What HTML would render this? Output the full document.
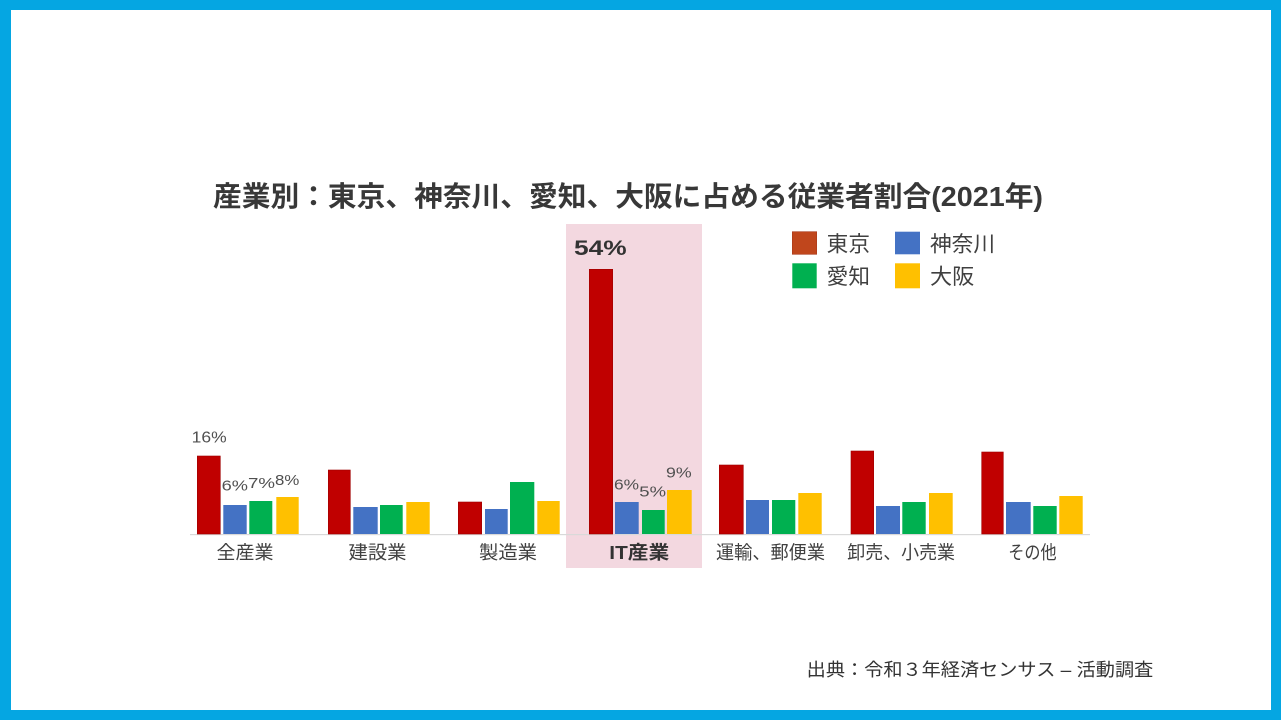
<!DOCTYPE html>
<html>
<head>
<meta charset="utf-8">
<style>
html,body{margin:0;padding:0;background:#fff;}
body{width:1281px;height:720px;overflow:hidden;}
svg{display:block;}
</style>
</head>
<body>
<svg width="1281" height="720" viewBox="0 0 1281 720" xmlns="http://www.w3.org/2000/svg">
  <rect x="0" y="0" width="1281" height="720" fill="#05A6E2"/>
  <rect x="11" y="10" width="1260" height="700" fill="#FFFFFF"/>

  <!-- Title -->
  <text x="213" y="206" font-family="'Liberation Sans','Noto Sans CJK JP',sans-serif" font-weight="bold" font-size="28" fill="#383838" textLength="830" lengthAdjust="spacingAndGlyphs">産業別：東京、神奈川、愛知、大阪に占める従業者割合(2021年)</text>

  <!-- Highlight -->
  <rect x="566" y="224" width="136" height="344" fill="#F3D8E0"/>

  <!-- Axis -->
  <rect x="190" y="534" width="900" height="1.2" fill="#D9D9D9"/>

  <!-- Bars -->
  <g>
    <!-- 全産業 -->
    <rect x="197.3" y="456" width="23" height="78" fill="#C00000" stroke="#A00000" stroke-width="0.6"/>
    <rect x="223.3" y="505" width="23.4" height="29" fill="#4472C4"/>
    <rect x="249.3" y="501" width="23" height="33" fill="#00B050"/>
    <rect x="276.3" y="497" width="22.4" height="37" fill="#FFC000"/>
    <!-- 建設業 -->
    <rect x="328.3" y="470" width="22" height="64" fill="#C00000" stroke="#A00000" stroke-width="0.6"/>
    <rect x="353.3" y="507" width="24.4" height="27" fill="#4472C4"/>
    <rect x="380" y="505" width="22.7" height="29" fill="#00B050"/>
    <rect x="406.3" y="502" width="23.4" height="32" fill="#FFC000"/>
    <!-- 製造業 -->
    <rect x="458.3" y="502" width="23.4" height="32" fill="#C00000" stroke="#A00000" stroke-width="0.6"/>
    <rect x="485" y="509" width="22.7" height="25" fill="#4472C4"/>
    <rect x="510" y="482" width="24.3" height="52" fill="#00B050"/>
    <rect x="537.3" y="501" width="22.4" height="33" fill="#FFC000"/>
    <!-- IT産業 -->
    <rect x="589.3" y="269.3" width="23.4" height="264.7" fill="#C00000" stroke="#A00000" stroke-width="0.6"/>
    <rect x="615" y="502" width="23.7" height="32" fill="#4472C4"/>
    <rect x="642" y="510" width="22.7" height="24" fill="#00B050"/>
    <rect x="667" y="490" width="24.7" height="44" fill="#FFC000"/>
    <!-- 運輸、郵便業 -->
    <rect x="719.3" y="465" width="24" height="69" fill="#C00000" stroke="#A00000" stroke-width="0.6"/>
    <rect x="746" y="500" width="23" height="34" fill="#4472C4"/>
    <rect x="772" y="500" width="23.3" height="34" fill="#00B050"/>
    <rect x="798.3" y="493" width="23.4" height="41" fill="#FFC000"/>
    <!-- 卸売、小売業 -->
    <rect x="851" y="451" width="22.7" height="83" fill="#C00000" stroke="#A00000" stroke-width="0.6"/>
    <rect x="876" y="506" width="24" height="28" fill="#4472C4"/>
    <rect x="902.3" y="502" width="23.4" height="32" fill="#00B050"/>
    <rect x="929" y="493" width="23.7" height="41" fill="#FFC000"/>
    <!-- その他 -->
    <rect x="981.7" y="452" width="21.6" height="82" fill="#C00000" stroke="#A00000" stroke-width="0.6"/>
    <rect x="1006" y="502" width="24.7" height="32" fill="#4472C4"/>
    <rect x="1033.3" y="506" width="23.4" height="28" fill="#00B050"/>
    <rect x="1059.3" y="496" width="23.4" height="38" fill="#FFC000"/>
  </g>

  <!-- Value labels -->
  <g font-family="'Liberation Sans',sans-serif" fill="#505050">
    <text x="191.7" y="442.7" font-size="15.5" textLength="35" lengthAdjust="spacingAndGlyphs">16%</text>
    <text x="221.7" y="490.7" font-size="15" textLength="26.3" lengthAdjust="spacingAndGlyphs">6%</text>
    <text x="248" y="488" font-size="15" textLength="27" lengthAdjust="spacingAndGlyphs">7%</text>
    <text x="275" y="485" font-size="15" textLength="24.3" lengthAdjust="spacingAndGlyphs">8%</text>
    <text x="614" y="489.3" font-size="15" textLength="25" lengthAdjust="spacingAndGlyphs">6%</text>
    <text x="639.3" y="496.7" font-size="15" textLength="26.7" lengthAdjust="spacingAndGlyphs">5%</text>
    <text x="666" y="477.3" font-size="15" textLength="25.7" lengthAdjust="spacingAndGlyphs">9%</text>
    <text x="574" y="255" font-size="21.5" font-weight="bold" fill="#333333" textLength="52.7" lengthAdjust="spacingAndGlyphs">54%</text>
  </g>

  <!-- Category labels -->
  <g font-family="'Liberation Sans','Noto Sans CJK JP',sans-serif" font-size="18.5" fill="#404040">
    <text x="216.5" y="559" textLength="57" lengthAdjust="spacingAndGlyphs">全産業</text>
    <text x="348.5" y="559" textLength="58" lengthAdjust="spacingAndGlyphs">建設業</text>
    <text x="479" y="559" textLength="58" lengthAdjust="spacingAndGlyphs">製造業</text>
    <text x="609.3" y="559" font-weight="bold" fill="#333333" textLength="60" lengthAdjust="spacingAndGlyphs">IT産業</text>
    <text x="716" y="559" textLength="109" lengthAdjust="spacingAndGlyphs">運輸、郵便業</text>
    <text x="847.3" y="559" textLength="107.7" lengthAdjust="spacingAndGlyphs">卸売、小売業</text>
    <text x="1008.3" y="559" textLength="48.3" lengthAdjust="spacingAndGlyphs">その他</text>
  </g>

  <!-- Legend -->
  <rect x="792.3" y="231.7" width="24.4" height="22.6" fill="#C0461C" stroke="#A8381A" stroke-width="0.6"/>
  <rect x="895" y="231.7" width="25" height="22.6" fill="#4472C4"/>
  <rect x="792.3" y="263.3" width="24.4" height="25" fill="#00B050"/>
  <rect x="895" y="263.3" width="25" height="25" fill="#FFC000"/>
  <g font-family="'Liberation Sans','Noto Sans CJK JP',sans-serif" font-size="21.5" fill="#404040">
    <text x="826.7" y="251.5" textLength="43.3" lengthAdjust="spacingAndGlyphs">東京</text>
    <text x="930" y="251.5" textLength="65" lengthAdjust="spacingAndGlyphs">神奈川</text>
    <text x="826.7" y="284" textLength="43.3" lengthAdjust="spacingAndGlyphs">愛知</text>
    <text x="930" y="284" textLength="44.3" lengthAdjust="spacingAndGlyphs">大阪</text>
  </g>

  <!-- Footer -->
  <text x="806.7" y="676" font-family="'Liberation Sans','Noto Sans CJK JP',sans-serif" font-size="18" fill="#333333" textLength="346.6" lengthAdjust="spacingAndGlyphs">出典：令和３年経済センサス – 活動調査</text>
</svg>
</body>
</html>
